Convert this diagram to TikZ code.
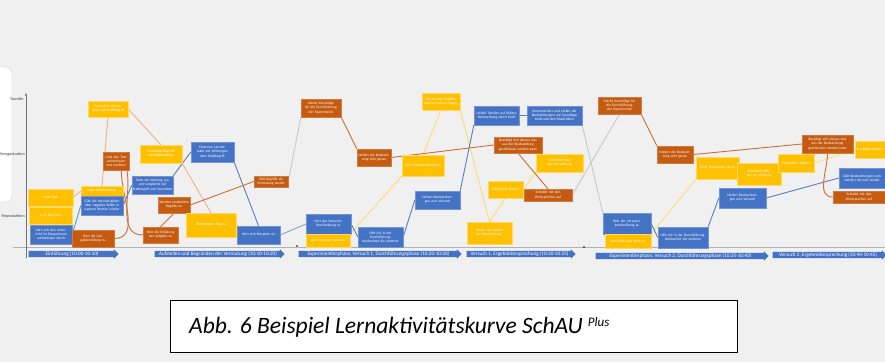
\documentclass[tikz,border=0pt]{standalone}
\usepackage{fontspec}
\setmainfont{Carlito}
\usetikzlibrary{shapes.arrows,calc,arrows.meta}
\definecolor{bgc}{RGB}{240,240,240}
\definecolor{cblue}{RGB}{68,114,196}
\definecolor{corange}{RGB}{197,90,17}
\definecolor{cyellow}{RGB}{255,192,0}
\definecolor{ltan}{RGB}{244,177,131}
\definecolor{lyel}{RGB}{255,220,110}
\definecolor{lblue}{RGB}{91,123,192}
\definecolor{lteal}{RGB}{75,160,180}
\definecolor{lorange}{RGB}{205,110,50}
\definecolor{faint}{RGB}{200,200,205}
\pgfdeclarelayer{back}\pgfdeclarelayer{lines}\pgfsetlayers{back,lines,main}
\tikzset{
 box/.style={rectangle, inner sep=0.3pt, text=white, align=center, font=\fontsize{3.6}{4.1}\selectfont, line width=0.4pt},
 bluebox/.style={box, fill=cblue, draw=cblue!75!white},
 orangebox/.style={box, fill=corange, draw=corange!80!white},
 yellowbox/.style={box, fill=cyellow, draw=cyellow!60!white},
 phase/.style={single arrow, fill=cblue, draw=none, text=white, single arrow head extend=1.5pt, minimum width=9.5pt, inner sep=0.3pt, font=\fontsize{5.2}{5.6}\selectfont},
 lnk/.style={line width=0.9pt},
 axlab/.style={text=black!75, font=\fontsize{4.2}{5}\selectfont, inner sep=0pt},
}
\newcommand\bx[7]{%
 \pgfmathsetmacro\bxw{#5-#3}\pgfmathsetmacro\bxh{#6-#4}\pgfmathsetmacro\bxt{#5-#3-1.5}%
 \pgfmathsetmacro\bxcx{(#3+#5)/2}\pgfmathsetmacro\bxcy{(#4+#6)/2}%
 \node[#2, minimum width=\bxw pt, minimum height=\bxh pt, text width=\bxt pt] (#1) at (\bxcx,\bxcy) {#7};}
\begin{document}
\begin{tikzpicture}[x=1pt,y=-1pt]
\clip (0,0) rectangle (885,362);
\begin{pgfonlayer}{back}
\fill[bgc] (0,0) rectangle (885,362);
\draw[fill=white, draw=black!20, rounded corners=6pt] (-20,67) rectangle (12,202);
\draw[black!30, line width=0.7pt] (13,247) -- (885,247);
\draw[-{Stealth[length=3pt,width=2.5pt]}, black!55, line width=0.5pt] (26,258) -- (26,93);
\fill[black] (297,246) circle (0.9);
\fill[black] (584,247) circle (0.9);
\end{pgfonlayer}
% axis labels
\node[axlab, anchor=east] (l1) at (24,99) {Transfer};
\node[axlab, anchor=east] (l2) at (25,154) {Reorganisation};
\node[axlab, anchor=east] (l3) at (25,216) {Reproduktion};
% phase arrows
\node[phase, minimum height=90pt] (p1) at (72,254) {Einführung (10:00-10:10)};
\node[phase, minimum height=130pt] (p2) at (218,254) {Aufstellen und Begründen der Vermutung (10:10-10:20)};
\node[phase, minimum height=163pt] (p3) at (378.5,254) {Experimentierphase, Versuch 1, Durchführungsphase (10:20-10:30)};
\node[phase, minimum height=109pt] (p4) at (519.5,254) {Versuch 1, Ergebnisbesprechung (10:30-10:35)};
\node[phase, minimum height=173pt] (p5) at (680.5,256) {Experimentierphase, Versuch 2, Durchführungsphase (10:35-10:40)};
\node[phase, minimum height=114pt] (p6) at (828,255) {Versuch 2, Ergebnisbesprechung (10:40-10:45)};
% section 1
\bx{Y1}{yellowbox}{28}{189}{73}{206}{Liest Text}
\bx{Y2}{yellowbox}{29}{207}{72}{224}{Liest den Text}
\bx{B1}{bluebox}{30}{225}{72}{244}{Hört sich den Unterricht im Klassenraum aufmerksam durch}
\bx{O1}{orangebox}{72}{230}{114}{247}{Hört die Aufgabenstellung zu}
\bx{Y3}{yellowbox}{81}{186}{123}{196}{Liest Arbeitsauftrag}
\bx{B2}{bluebox}{81}{196}{123}{215}{Gibt die Versuchsbilder über negative Kräfte in eigenen Worten wieder}
\bx{YT}{yellowbox}{88}{101}{128}{117}{Formuliert Vermutung zum Kraftbegriff}
\bx{O2}{orangebox}{103}{152}{129}{170}{Liest den Text aufmerksam und markiert}
\bx{B3}{bluebox}{132}{176}{173}{194}{Sieht die Wirkung aus und vergleicht mit Kraftbegriff und Vorwissen}
\bx{Y4}{yellowbox}{140}{145}{182}{163}{Erarbeitet Begriffe zur Kraftwirkung}
\bx{O3}{orangebox}{143}{227}{178}{243}{Hört die Erklärung der Aufgabe zu}
\bx{O4}{orangebox}{158}{197}{190}{213}{Wendet erarbeitete Begriffe an}
\bx{B4}{bluebox}{191}{142}{234}{162}{Erkennen Lernobjekte mit Wirkungen über Kraftbegriff}
\bx{Y5}{yellowbox}{186}{213}{236}{237}{Beantwortet Fragen}
\bx{O5}{orangebox}{254}{176}{288}{187}{Gibt Begriffe als Vermutung wieder}
\bx{B5}{bluebox}{237}{226}{280}{244}{Hört sich Beispiele an}
% section 2
\bx{O6}{orangebox}{301}{99}{341}{117}{Macht Vorschläge für die Durchführung der Experimente}
\bx{O7}{orangebox}{357}{149}{391}{166}{Notiert die Beobachtung sehr genau}
\bx{Y6}{yellowbox}{402}{155}{444}{176}{Führt Experiment durch}
\bx{Y7}{yellowbox}{422}{93}{460}{110}{Erkennt das Problem und formuliert Fragen}
\bx{B6}{bluebox}{415}{191}{460}{209}{Notiert Beobachtungen zum Versuch}
\bx{B7}{bluebox}{306}{214}{351}{234}{Hört der Versuchsbeschreibung zu}
\bx{Y8}{yellowbox}{306}{234}{350}{247}{Liest Text zum Versuch}
\bx{B8}{bluebox}{358}{227}{403}{247}{Hilft mit in der Durchführung, beobachtet die Anderen}
% section 3
\bx{B9}{bluebox}{474}{106}{519}{125}{Leistet Transfer auf höhere Beobachtung durch Kraft}
\bx{B10}{bluebox}{527}{106}{582}{125}{Kommuniziert und erklärt die Beobachtungen auf Grundlage Kraft und den Materialien}
\bx{O8}{orangebox}{494}{137}{542}{153}{Bestätigt sich daraus was aus der Beobachtung geschlossen werden kann}
\bx{Y9}{yellowbox}{536}{154}{583}{172}{Erarbeitet Wissen zur Wirkung}
\bx{Y10}{yellowbox}{488}{181}{523}{198}{Formuliert Wissen}
\bx{O9}{orangebox}{524}{189}{572}{201}{Schreibt mit den Wortsprecher auf}
\bx{Y11}{yellowbox}{467}{222}{512}{244}{Malen das Gefühl zur Beobachtung}
% section 4
\bx{O10}{orangebox}{598}{97}{641}{114}{Macht Vorschläge für die Durchführung der Experimente}
\bx{O11}{orangebox}{657}{146}{693}{163}{Notiert die Beobachtung sehr genau}
\bx{Y12}{yellowbox}{696}{157}{739}{179}{Führt Experiment durch}
\bx{B11}{bluebox}{603}{213}{651}{234}{Hört der Versuchsbeschreibung zu}
\bx{Y13}{yellowbox}{605}{234}{651}{248}{Liest Text zum Versuch}
\bx{B12}{bluebox}{658}{227}{708}{248}{Hilft mit in der Durchführung, beobachtet die Anderen}
\bx{B13}{bluebox}{719}{188}{766}{208}{Notiert Beobachtungen zum Versuch}
% section 5
\bx{Y14}{yellowbox}{737}{163}{781}{185}{Erarbeitet Wissen zur Wirkung}
\bx{Y15}{yellowbox}{778}{154}{814}{172}{Formuliert Wissen}
\bx{O12}{orangebox}{802}{135}{853}{153}{Bestätigt sich daraus was aus der Beobachtung geschlossen werden kann}
\bx{Y16}{yellowbox}{855}{141}{885}{158}{Erarbeitet Wissen}
\bx{B14}{bluebox}{839}{168}{885}{188}{Gibt Beobachtungen zum zweiten Versuch wieder}
\bx{O13}{orangebox}{833}{191}{885}{203}{Schreibt mit den Wortsprecher auf}
% caption
\node[draw=black, line width=1.2pt, fill=white, minimum width=567pt, minimum height=52pt, anchor=north west, inner sep=0pt] (cap) at (170,300) {};
\node[anchor=west, inner sep=0pt, font=\fontsize{23.5}{26}\selectfont\itshape] (captxt) at (189,327) {Abb. 6 Beispiel Lernaktivitätskurve SchAU \raisebox{7pt}{\fontsize{13}{13}\selectfont Plus}};
% connectors
\begin{pgfonlayer}{lines}
% yellow / tan
\draw[lnk, ltan] (Y1.east) -- (Y3.west);
\draw[lnk, ltan] (Y3.north) -- (YT.south);
\draw[lnk, ltan] (YT.east) -- (Y4.north);
\draw[lnk, ltan] (Y4.south east) -- (Y5.north);
\draw[lnk, lyel] (Y8.north east) -- (Y6.south west);
\draw[lnk, lyel] (Y6.north) -- (Y7.south);
\draw[lnk, lyel] (Y7.south east) -- (Y11.north);
\draw[lnk, lyel] (Y11.north) -- (Y10.south);
\draw[lnk, lyel] (Y10.east) -- (Y9.south west);
\draw[lnk, lyel] (Y13.north east) -- (Y12.south west);
\draw[lnk, lyel] (Y15.east) -- (Y16.west);
% blue
\draw[lnk, lteal] (B1.east) -- (B2.west);
\draw[lnk, lblue] (B2.east) -- (B3.west);
\draw[lnk, lblue] (B3.north east) -- (B4.west);
\draw[lnk, lblue] (B4.south east) -- (B5.north);
\draw[lnk, lblue!50!faint] (B5.east) -- (B7.west);
\draw[lnk, lblue] (B7.east) -- (B8.west);
\draw[lnk, lblue] (B8.east) -- (B6.west);
\draw[lnk, lblue] (B6.north east) -- (B9.south west);
\draw[lnk, lblue] (B9.east) -- (B10.west);
\draw[lnk, faint] (B10.south east) -- (B11.north west);
\draw[lnk, lblue] (B11.east) -- (B12.west);
\draw[lnk, lblue] (B12.north east) -- (B13.west);
\draw[lnk, lblue] (B13.east) -- (B14.west);
% orange
\draw[lnk, lorange] (O1.east) to[out=0,in=-90] (O2.-60);
\draw[lnk, lorange] (O2.-40) to[out=-80,in=180] (O3.west);
\draw[lnk, lorange] (O3.north) -- (O4.south);
\draw[lnk, lorange] (O4.east) -- (O5.west);
\draw[lnk, faint] (O5.east) -- (O6.south west);
\draw[lnk, lorange] (O6.south east) -- (O7.north west);
\draw[lnk, lorange] (O7.east) -- (O8.west);
\draw[lnk, lorange] (O8.south) -- (O9.north);
\draw[lnk, faint] (O9.east) -- (O10.south);
\draw[lnk, lorange] (O10.south east) -- (O11.north west);
\draw[lnk, lorange] (O11.east) -- (O12.west);
\draw[lnk, lorange] (O12.south) to[out=-90,in=180] (O13.west);
\end{pgfonlayer}
\end{tikzpicture}
\end{document}
